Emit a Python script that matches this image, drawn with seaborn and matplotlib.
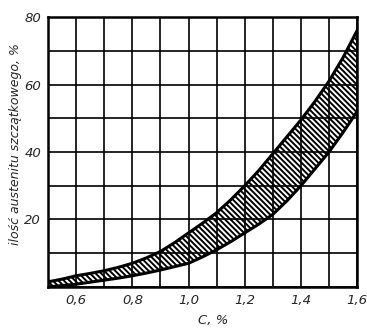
import matplotlib
matplotlib.use("Agg")
import matplotlib.pyplot as plt
import seaborn as sns
import pandas as pd

carbon = [0.50, 0.55, 0.60, 0.65, 0.70, 0.75, 0.80, 0.85, 0.90, 0.95, 1.00, 1.05,
          1.10, 1.15, 1.20, 1.25, 1.30, 1.35, 1.40, 1.45, 1.50, 1.55, 1.60]
upper = [1.5, 2.3, 3.3, 4.0, 4.8, 5.8, 7.0, 8.6, 10.5, 13.1, 16.0, 18.9,
         22.0, 25.8, 30.0, 34.5, 39.5, 44.5, 49.5, 55.0, 61.0, 68.0, 76.0]
lower = [0.0, 0.4, 0.8, 1.4, 2.0, 2.6, 3.3, 4.1, 5.0, 6.0, 7.0, 8.9,
         11.0, 13.4, 16.0, 18.6, 21.5, 25.5, 30.0, 35.0, 40.0, 45.8, 52.0]
x_ticks = [0.5, 0.6, 0.7, 0.8, 0.9, 1.0, 1.1, 1.2, 1.3, 1.4, 1.5, 1.6]
x_labels = ["", "0,6", "", "0,8", "", "1,0", "", "1,2", "", "1,4", "", "1,6"]
y_ticks = [0, 10, 20, 30, 40, 50, 60, 70, 80]
y_labels = ["", "", "20", "", "40", "", "60", "", "80"]

sns.set_style("white")
plt.rcParams["font.family"] = ["DejaVu Sans"]
plt.rcParams["hatch.linewidth"] = 1.4

df = pd.DataFrame({"C": carbon, "upper": upper, "lower": lower})

fig = plt.figure(figsize=(3.67, 3.29), dpi=100)
ax = fig.add_axes([0.131, 0.128, 0.842, 0.82])

ax.fill_between(df["C"], df["lower"], df["upper"], facecolor="none",
                edgecolor="black", hatch="\\" * 6, linewidth=0)
sns.lineplot(data=df, x="C", y="upper", ax=ax, color="black", linewidth=2.2)
sns.lineplot(data=df, x="C", y="lower", ax=ax, color="black", linewidth=2.2)

ax.set_xlim(0.5, 1.6)
ax.set_ylim(0, 80)
ax.set_xticks(x_ticks)
ax.set_xticklabels(x_labels, fontsize=9.5, style="italic")
ax.set_yticks(y_ticks)
ax.set_yticklabels(y_labels, fontsize=9.5, style="italic")
ax.tick_params(length=0, pad=5)
ax.grid(True, color="black", linewidth=1.2)
ax.set_axisbelow(True)
for s in ax.spines.values():
    s.set_visible(True)
    s.set_color("black")
    s.set_linewidth(1.8)

ax.set_xlabel("C, %", fontsize=9.5, style="italic")
ax.set_ylabel("ilość austenitu szczątkowego, %", fontsize=9, style="italic")
ax.xaxis.set_label_coords(0.534, -0.10)
ax.yaxis.set_label_coords(-0.085, 0.53)

fig.savefig("out.png", dpi=100)
